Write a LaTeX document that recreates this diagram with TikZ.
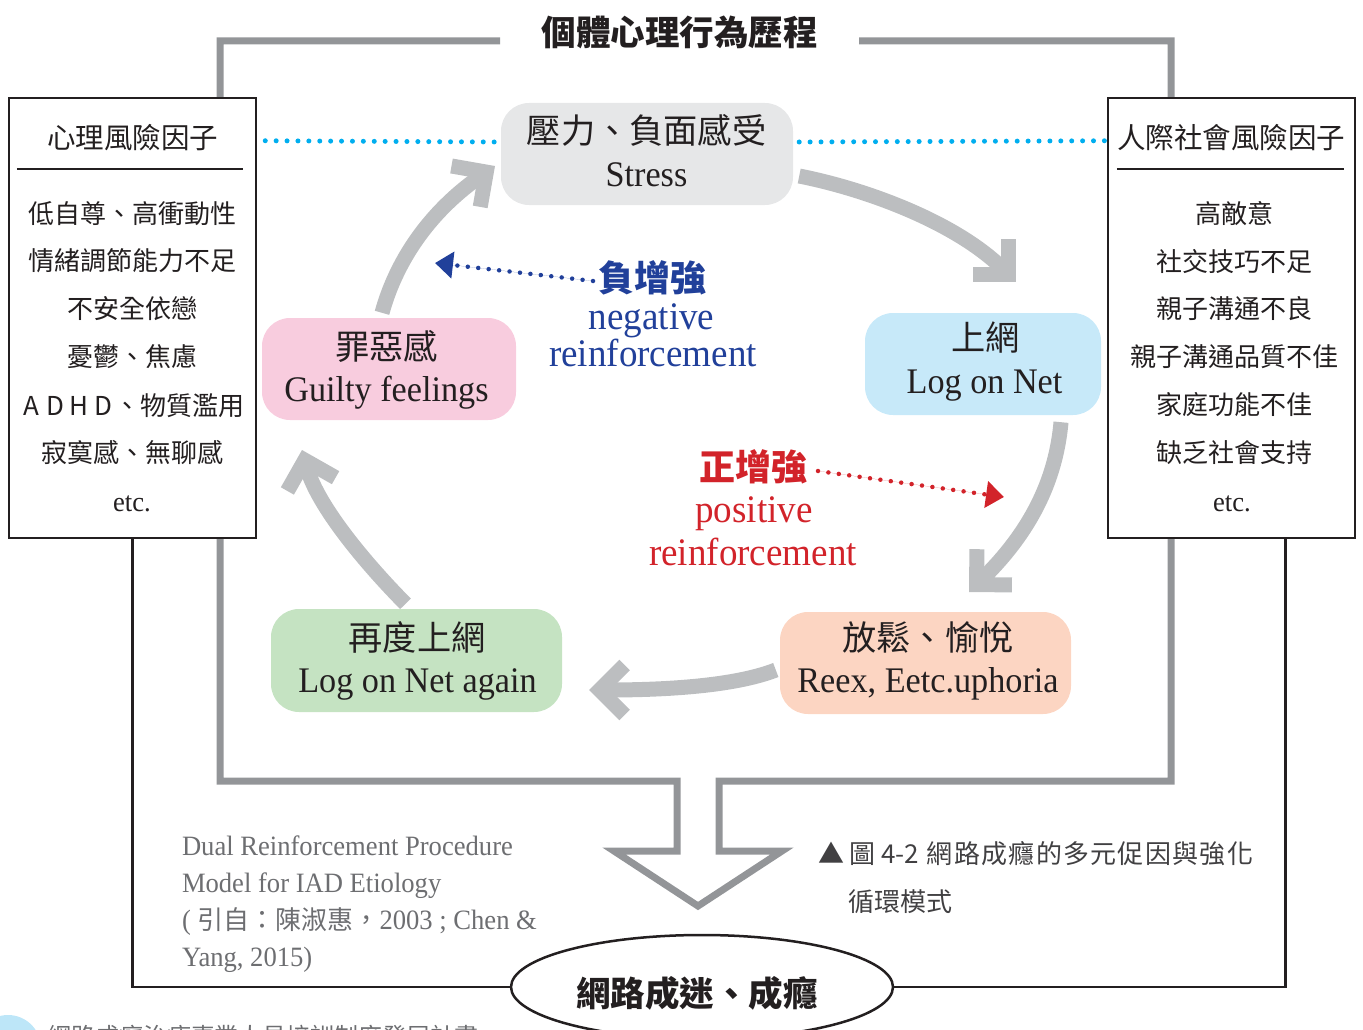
\documentclass[tikz,border=0pt]{standalone}
\usepackage{fontspec}
\setmainfont{Liberation Serif}
\newfontfamily\lat{Liberation Serif}[FakeStretch=0.95]
\newfontfamily\cjk{Noto Sans CJK TC}
\newfontfamily\cjkcap{Noto Sans CJK TC}[LetterSpace=5]
\usetikzlibrary{arrows.meta,calc,shapes.geometric}
\definecolor{ink}{HTML}{231F20}
\definecolor{framegray}{HTML}{939598}
\definecolor{arrowgray}{HTML}{BCBEC0}
\definecolor{cyanc}{HTML}{00AEEF}
\definecolor{navy}{HTML}{21409A}
\definecolor{redc}{HTML}{D2232A}
\definecolor{stressfill}{HTML}{E6E7E8}
\definecolor{bluefill}{HTML}{C7E9F9}
\definecolor{peachfill}{HTML}{FCD5C2}
\definecolor{greenfill}{HTML}{C5E3C2}
\definecolor{pinkfill}{HTML}{F8CCDE}
\definecolor{captiongray}{HTML}{414042}
\definecolor{notegray}{HTML}{6D6E71}
\definecolor{circblue}{HTML}{BDE6F8}
\newcommand\fsz[1]{\fontsize{#1}{#1}\selectfont}
\begin{document}
\begin{tikzpicture}[x=1pt,y=-1pt,
  txt/.style={anchor=base, inner sep=0pt, outer sep=0pt, text=ink},
  txtw/.style={anchor=base west, inner sep=0pt, outer sep=0pt},
  stage/.style={rounded corners=28pt, inner sep=0pt, minimum height=102pt},
  riskbox/.style={draw=ink, line width=2.5pt, fill=white, inner sep=0pt, minimum width=247pt, minimum height=440pt},
  bigarrow/.style={draw=arrowgray, line width=15pt, -{Straight Barb[length=25pt,width=50pt]}},
  cyandot/.style={draw=cyanc, line width=5pt, line cap=round, dash pattern=on 0pt off 10.9pt},
  reinfdot/.style={line width=4.5pt, line cap=round, dash pattern=on 0pt off 10.5pt, -{Triangle[length=18pt,width=26pt]}},
  framepath/.style={draw=framegray, line width=7pt, line join=miter},
  thinframe/.style={draw=ink, line width=2.5pt}
]
\useasboundingbox (0,0) rectangle (1363,1030);
\clip (0,0) rectangle (1363,1030);

% gray process frame with hollow down arrow
\draw[framepath] (500,41) -- (220,41) -- (220,781) -- (677,781) -- (677,851) -- (614,851)
  -- (698,906) -- (782,851) -- (719,851) -- (719,781) -- (1171,781) -- (1171,41) -- (859,41);
\node[txt] (title) at (679.5,45.5) {\cjk\bfseries\fsz{34.5}個體心理行為歷程};

% risk factor boxes
\node[riskbox] (lbox) at (132.5,318) {};
\node[riskbox] (rbox) at (1231.5,318) {};
\draw[ink, line width=2pt] ($(lbox.north west)+(9,72)$) -- ($(lbox.north east)+(-14,72)$);
\draw[ink, line width=2pt] ($(rbox.north west)+(10,72)$) -- ($(rbox.north east)+(-12,72)$);

% outer addiction frame
\node[ellipse, draw=ink, line width=2.5pt, fill=white, minimum width=382pt, minimum height=104pt, inner sep=0pt] (addict) at (702,987) {};
\draw[thinframe] (lbox.south) |- (addict.west);
\draw[thinframe] (addict.east) -| ($(rbox.south)+(54,0)$);
\node[txt] (addicttext) at (697,1006) {\cjk\bfseries\fsz{34.5}網路成迷、成癮};

% left box texts
\node[txt] (lt) at (132.5,148.5) {\cjk\fsz{28.5}心理風險因子};
\node[txt] (l1) at (132.5,223) {\cjk\fsz{26}低自尊、高衝動性};
\node[txt] (l2) at (132.5,270) {\cjk\fsz{26}情緒調節能力不足};
\node[txt] (l3) at (132.5,318) {\cjk\fsz{26}不安全依戀};
\node[txt] (l4) at (132.5,366) {\cjk\fsz{26}憂鬱、焦慮};
\node[txt] (l5) at (132,415) {\cjk\fsz{26}\makebox[24pt]{A}\makebox[24pt]{D}\makebox[24pt]{H}\makebox[24pt]{D}、物質濫用};
\node[txt] (l6) at (132.5,462) {\cjk\fsz{26}寂寞感、無聊感};
\node[txt] (l7) at (132,511) {\lat\fsz{28}etc.};

% right box texts
\node[txt] (rt) at (1231,148.5) {\cjk\fsz{28.5}人際社會風險因子};
\node[txt] (r1) at (1234,223) {\cjk\fsz{26}高敵意};
\node[txt] (r2) at (1234,271) {\cjk\fsz{26}社交技巧不足};
\node[txt] (r3) at (1234,318) {\cjk\fsz{26}親子溝通不良};
\node[txt] (r4) at (1234,366) {\cjk\fsz{26}親子溝通品質不佳};
\node[txt] (r5) at (1234,414) {\cjk\fsz{26}家庭功能不佳};
\node[txt] (r6) at (1234,462) {\cjk\fsz{26}缺乏社會支持};
\node[txt] (r7) at (1232,511) {\lat\fsz{28}etc.};

% cycle stages
\node[stage, fill=stressfill, minimum width=292pt] (stress) at (647,154) {};
\node[stage, fill=bluefill, minimum width=236pt] (logon) at (983,364) {};
\node[stage, fill=peachfill, minimum width=291pt] (relax) at (925.5,663) {};
\node[stage, fill=greenfill, minimum width=291pt, minimum height=103pt] (again) at (416.5,660.5) {};
\node[stage, fill=pinkfill, minimum width=254pt] (guilty) at (389,369) {};

\node[txt] (stresszh) at (646.5,143) {\cjk\fsz{34.2}壓力、負面感受};
\node[txt] (stressen) at (646.5,186) {\lat\fsz{36}Stress};
\node[txt] (logonzh) at (985.5,350) {\cjk\fsz{34.2}上網};
\node[txt] (logonen) at (984.5,393) {\lat\fsz{36}Log on Net};
\node[txt] (relaxzh) at (928,650) {\cjk\fsz{34.2}放鬆、愉悅};
\node[txt] (relaxen) at (928,692) {\lat\fsz{36}Reex, Eetc.uphoria};
\node[txt] (againzh) at (417,650) {\cjk\fsz{34.2}再度上網};
\node[txt] (againen) at (417.5,692) {\lat\fsz{36}Log on Net again};
\node[txt] (guiltyzh) at (386.5,359) {\cjk\fsz{34.2}罪惡感};
\node[txt] (guiltyen) at (386.5,401) {\lat\fsz{36}Guilty feelings};

% dotted links to risk boxes
\draw[cyandot] ($(lbox.north east)+(8,44)$) -- ($(stress.west)+(-5,-12)$);
\draw[cyandot] ($(stress.east)+(6,-12)$) -- ($(rbox.north west)+(0,44)$);

% cycle arrows
\coordinate (a1e) at (1016,282);
\coordinate (a2e) at (969,592);
\coordinate (a3e) at (589,690);
\coordinate (a4e) at (302,450);
\coordinate (a5e) at (495,166);
\draw[bigarrow] ($(stress.east)+(6,22)$) .. controls (870,190) and (958,224) .. (a1e);
\draw[bigarrow] ($(logon.south)+(78,7)$) .. controls (1055,490) and (1022,540) .. (a2e);
\draw[bigarrow] ($(relax.west)+(-4,7)$) .. controls (740,684) and (680,690) .. (a3e);
\draw[bigarrow] ($(again.north)+(-11,-5)$) .. controls (370,568) and (318,508) .. (a4e);
\draw[bigarrow] ($(guilty.north)+(-7,-5)$) .. controls (396,262) and (428,213) .. (a5e);

% reinforcement labels
\node[txt, text=navy] (negzh) at (652.5,291.5) {\cjk\bfseries\fsz{36}負增強};
\node[txt, text=navy] (negen1) at (651.5,329) {\lat\fsz{39}negative};
\node[txt, text=navy] (negen2) at (653,366) {\lat\fsz{39}reinforcement};
\node[txt, text=redc] (poszh) at (753.5,480.5) {\cjk\bfseries\fsz{36}正增強};
\node[txt, text=redc] (posen1) at (754,522) {\lat\fsz{39}positive};
\node[txt, text=redc] (posen2) at (753,565) {\lat\fsz{39}reinforcement};
\coordinate (nstart) at (593,281);
\coordinate (nend) at (435,263);
\coordinate (pstart) at (818,471);
\coordinate (pend) at (1004,497);
\draw[reinfdot, draw=navy, fill=navy] (nstart) -- (nend);
\draw[reinfdot, draw=redc, fill=redc] (pstart) -- (pend);

% source note
\node[txtw, text=notegray] (src1) at (182,855) {\lat\fsz{28}Dual Reinforcement Procedure};
\node[txtw, text=notegray] (src2) at (182,892) {\lat\fsz{28}Model for IAD Etiology};
\node[txtw, text=notegray] (src3) at (182,929) {\lat\fsz{28}( {\cjk\fsz{26}引自：陳淑惠，}2003 ; Chen \&};
\node[txtw, text=notegray] (src4) at (182,966) {\lat\fsz{28}Yang, 2015)};

% caption
\node[txtw, text=captiongray] (cap1) at (818,863) {\cjk\fsz{26}▲\hspace{5pt}圖\hspace{6pt}4-2\hspace{8pt}{\cjkcap 網路成癮的多元促因與強化}};
\node[txtw, text=captiongray] (cap2) at (848,911) {\cjk\fsz{26}循環模式};

% page footer (cut off)
\fill[circblue] (8,1048) circle (33);
\node[txtw, text=notegray] (footer) at (47,1045) {\cjk\fsz{24}網路成癮治療專業人員培訓制度發展計畫};
\end{tikzpicture}
\end{document}
